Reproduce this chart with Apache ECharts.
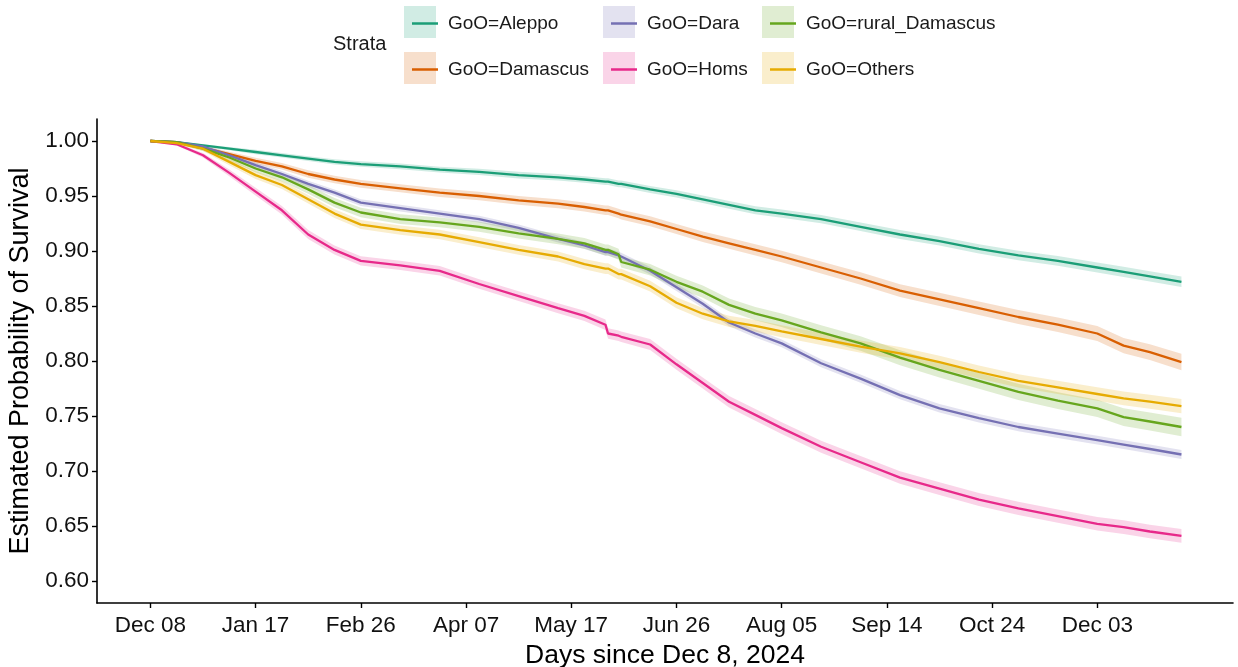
<!DOCTYPE html>
<html>
<head>
<meta charset="utf-8">
<script src="https://cdn.jsdelivr.net/npm/echarts@6/dist/echarts.min.js"></script>
<style>
  html, body { margin: 0; padding: 0; background: #ffffff; }
  #chart { width: 1238px; height: 667px; }
</style>
</head>
<body>
<div id="chart"></div>
<script>
// Kaplan-Meier survival estimates by governorate of origin (GoO), with 95% bands
var days = [0, 10, 20, 30, 40, 50, 60, 70, 80, 95, 110, 125, 140, 155, 165, 173, 174, 178, 179,
            190, 200, 210, 220, 230, 240, 255, 270, 285, 300, 315, 330, 345, 360, 370, 380, 392];

var aleppo = [1.000, 0.999, 0.996, 0.993, 0.990, 0.987, 0.984, 0.981, 0.979, 0.977, 0.974, 0.972, 0.969, 0.967, 0.965, 0.963, 0.963, 0.961, 0.961,
              0.956, 0.952, 0.947, 0.942, 0.937, 0.934, 0.929, 0.922, 0.915, 0.909, 0.902, 0.896, 0.891, 0.885, 0.881, 0.877, 0.872];
var damascus = [1.000, 0.999, 0.994, 0.988, 0.982, 0.977, 0.970, 0.965, 0.961, 0.957, 0.953, 0.950, 0.946, 0.943, 0.940, 0.937, 0.937, 0.934, 0.933,
                0.927, 0.920, 0.913, 0.907, 0.901, 0.895, 0.885, 0.875, 0.864, 0.856, 0.848, 0.840, 0.833, 0.825, 0.814, 0.808, 0.799];
var dara = [1.000, 0.999, 0.995, 0.987, 0.978, 0.970, 0.961, 0.953, 0.944, 0.939, 0.934, 0.929, 0.921, 0.911, 0.905, 0.899, 0.899, 0.896, 0.895,
            0.882, 0.867, 0.852, 0.835, 0.825, 0.816, 0.798, 0.784, 0.769, 0.757, 0.748, 0.740, 0.734, 0.728, 0.724, 0.720, 0.715];
var homs = [1.000, 0.997, 0.987, 0.971, 0.954, 0.937, 0.915, 0.901, 0.891, 0.887, 0.882, 0.870, 0.859, 0.848, 0.841, 0.833, 0.825, 0.823, 0.822,
            0.815, 0.797, 0.780, 0.763, 0.751, 0.739, 0.722, 0.708, 0.694, 0.684, 0.674, 0.666, 0.659, 0.652, 0.649, 0.645, 0.641];
var ruralDamascus = [1.000, 0.999, 0.993, 0.985, 0.975, 0.967, 0.956, 0.944, 0.935, 0.929, 0.926, 0.922, 0.916, 0.911, 0.907, 0.901, 0.901, 0.897, 0.890,
                     0.883, 0.872, 0.863, 0.851, 0.843, 0.837, 0.826, 0.816, 0.803, 0.792, 0.782, 0.772, 0.764, 0.757, 0.749, 0.745, 0.740];
var others = [1.000, 0.998, 0.993, 0.981, 0.969, 0.960, 0.947, 0.934, 0.924, 0.919, 0.915, 0.908, 0.901, 0.895, 0.888, 0.884, 0.884, 0.879, 0.879,
              0.868, 0.853, 0.843, 0.836, 0.832, 0.827, 0.820, 0.813, 0.807, 0.799, 0.790, 0.782, 0.776, 0.770, 0.766, 0.763, 0.759];

// half-widths of the confidence bands at the same days
var aleppoHw = [0, 0.0005, 0.001, 0.0015, 0.002, 0.002, 0.0022, 0.0024, 0.0025, 0.0026, 0.0027, 0.0028, 0.003, 0.003, 0.003, 0.0031, 0.0031, 0.0031, 0.0031,
                0.0032, 0.0033, 0.0034, 0.0035, 0.0036, 0.0037, 0.0038, 0.0039, 0.004, 0.0041, 0.0042, 0.0043, 0.0044, 0.0045, 0.0046, 0.0047, 0.0048];
var damascusHw = [0, 0.0008, 0.0015, 0.0022, 0.0028, 0.003, 0.0033, 0.0035, 0.0036, 0.0037, 0.0038, 0.0039, 0.004, 0.0041, 0.0042, 0.0043, 0.0043, 0.0043, 0.0044,
                  0.0045, 0.0046, 0.0048, 0.005, 0.0051, 0.0052, 0.0054, 0.0056, 0.0058, 0.006, 0.0062, 0.0064, 0.0066, 0.0068, 0.007, 0.0072, 0.0075];
var daraHw = [0, 0.0008, 0.0015, 0.002, 0.0025, 0.0027, 0.0028, 0.0029, 0.003, 0.003, 0.003, 0.0031, 0.0031, 0.0032, 0.0032, 0.0033, 0.0033, 0.0033, 0.0033,
              0.0034, 0.0034, 0.0035, 0.0035, 0.0036, 0.0036, 0.0037, 0.0037, 0.0038, 0.0038, 0.0039, 0.0039, 0.004, 0.004, 0.004, 0.0041, 0.0041];
var homsHw = [0, 0.001, 0.002, 0.003, 0.0035, 0.0038, 0.004, 0.0041, 0.0042, 0.0042, 0.0043, 0.0044, 0.0045, 0.0046, 0.0047, 0.0048, 0.0048, 0.0048, 0.0048,
              0.0049, 0.005, 0.0051, 0.0052, 0.0053, 0.0054, 0.0055, 0.0056, 0.0057, 0.0058, 0.0059, 0.006, 0.006, 0.0061, 0.0062, 0.0062, 0.0063];
var ruralDamascusHw = [0, 0.001, 0.002, 0.003, 0.0035, 0.0038, 0.004, 0.0042, 0.0043, 0.0044, 0.0045, 0.0046, 0.0047, 0.0048, 0.0049, 0.005, 0.005, 0.005, 0.0051,
                       0.0052, 0.0054, 0.0056, 0.0058, 0.006, 0.0062, 0.0064, 0.0066, 0.0068, 0.007, 0.0072, 0.0074, 0.0076, 0.0078, 0.008, 0.0082, 0.0085];
var othersHw = [0, 0.001, 0.002, 0.003, 0.0035, 0.0037, 0.0039, 0.004, 0.0041, 0.0042, 0.0043, 0.0044, 0.0045, 0.0046, 0.0047, 0.0048, 0.0048, 0.0048, 0.0048,
                0.0049, 0.005, 0.0051, 0.0052, 0.0053, 0.0054, 0.0055, 0.0056, 0.0057, 0.0058, 0.0059, 0.006, 0.0061, 0.0062, 0.0063, 0.0064, 0.0065];

var xTickDays = [0, 40, 80, 120, 160, 200, 240, 280, 320, 360];
var xTickLabels = ['Dec 08', 'Jan 17', 'Feb 26', 'Apr 07', 'May 17', 'Jun 26', 'Aug 05', 'Sep 14', 'Oct 24', 'Dec 03'];
var yTicks = [0.60, 0.65, 0.70, 0.75, 0.80, 0.85, 0.90, 0.95, 1.00];

var strata = [
  { name: 'GoO=Aleppo',          values: aleppo,        hw: aleppoHw,        color: '#1B9E77', band: 'rgba(27,158,119,0.2)' },
  { name: 'GoO=Damascus',        values: damascus,      hw: damascusHw,      color: '#D95F02', band: 'rgba(217,95,2,0.2)' },
  { name: 'GoO=Dara',            values: dara,          hw: daraHw,          color: '#7570B3', band: 'rgba(117,112,179,0.2)' },
  { name: 'GoO=Homs',            values: homs,          hw: homsHw,          color: '#E7298A', band: 'rgba(231,41,138,0.2)' },
  { name: 'GoO=rural_Damascus',  values: ruralDamascus, hw: ruralDamascusHw, color: '#66A61E', band: 'rgba(102,166,30,0.2)' },
  { name: 'GoO=Others',          values: others,        hw: othersHw,        color: '#E6AB02', band: 'rgba(230,171,2,0.2)' }
];

var FONT = '"Liberation Sans", Arial, sans-serif';

// band polygon: upper edge left-to-right, lower edge right-to-left
function bandSeries(s) {
  var data = days.map(function (d, i) { return [d, s.values[i] - s.hw[i], s.values[i] + s.hw[i]]; });
  return {
    type: 'custom',
    name: s.name,
    coordinateSystem: 'cartesian2d',
    silent: true,
    z: 1,
    color: s.color,
    encode: { x: 0, y: [1, 2] },
    data: data,
    renderItem: function (params, api) {
      if (params.dataIndex !== 0) return null;
      var pts = [];
      for (var i = 0; i < data.length; i++) pts.push(api.coord([data[i][0], data[i][2]]));
      for (var j = data.length - 1; j >= 0; j--) pts.push(api.coord([data[j][0], data[j][1]]));
      return { type: 'polygon', shape: { points: pts }, style: { fill: s.band, stroke: null } };
    }
  };
}

function lineSeries(s) {
  return {
    type: 'line',
    name: s.name,
    data: days.map(function (d, i) { return [d, s.values[i]]; }),
    showSymbol: false,
    symbol: 'none',
    z: 3,
    color: s.color,
    lineStyle: { color: s.color, width: 2.3 },
    emphasis: { disabled: true }
  };
}

var series = [];
strata.forEach(function (s) { series.push(bandSeries(s)); });
strata.forEach(function (s) { series.push(lineSeries(s)); });

// legend: two rows, three columns (column-major order)
var legendCols = [404, 603, 762];
var legendRows = [22, 68];
var legends = [];
var keyBoxes = [];
strata.forEach(function (s, k) {
  var col = Math.floor(k / 2), row = k % 2;
  var x = legendCols[col], yc = legendRows[row];
  keyBoxes.push({
    type: 'rect', z: 0, left: x, top: yc - 16,
    shape: { width: 32, height: 32 },
    style: { fill: s.band }
  });
  legends.push({
    data: [{ name: s.name, itemStyle: { color: s.color } }],
    left: x + 3,
    top: yc - 13,
    orient: 'horizontal',
    icon: 'rect',
    itemWidth: 26,
    itemHeight: 2.5,
    selectedMode: false,
    textStyle: { fontFamily: FONT, fontSize: 19, color: '#1a1a1a', padding: [0, 0, 0, 5] }
  });
});

var chart = echarts.init(document.getElementById('chart'), null, { renderer: 'canvas' });
chart.setOption({
  backgroundColor: '#ffffff',
  animation: false,
  legend: legends,
  graphic: keyBoxes.concat([{
    type: 'text', left: 333, top: 34, z: 5,
    style: { text: 'Strata', font: '20px ' + FONT, fill: '#1a1a1a' }
  }]),
  grid: { left: 97, right: 5, top: 119, bottom: 64, containLabel: false, outerBoundsMode: 'none' },
  xAxis: {
    type: 'value',
    min: -20.3,
    max: 411.6,
    name: 'Days since Dec 8, 2024',
    nameLocation: 'middle',
    nameGap: 35,
    nameTextStyle: { fontFamily: FONT, fontSize: 26.5, color: '#000' },
    axisLine: { show: true, onZero: false, lineStyle: { color: '#000', width: 1.6 } },
    axisTick: { show: true, length: 5, lineStyle: { color: '#000', width: 1.4 }, customValues: xTickDays },
    axisLabel: {
      fontFamily: FONT, fontSize: 22.5, color: '#111', margin: 11,
      customValues: xTickDays,
      formatter: function (v) { var i = xTickDays.indexOf(Math.round(v)); return i >= 0 ? xTickLabels[i] : ''; }
    },
    splitLine: { show: false }
  },
  yAxis: {
    type: 'value',
    min: 0.58,
    max: 1.02,
    name: 'Estimated Probability of Survival',
    nameLocation: 'middle',
    nameRotate: 90,
    nameGap: 57,
    nameTextStyle: { fontFamily: FONT, fontSize: 27, color: '#000' },
    axisLine: { show: true, onZero: false, lineStyle: { color: '#000', width: 1.6 } },
    axisTick: { show: true, length: 5, lineStyle: { color: '#000', width: 1.4 }, customValues: yTicks },
    axisLabel: {
      fontFamily: FONT, fontSize: 22.5, color: '#111', margin: 8,
      customValues: yTicks,
      formatter: function (v) { return v.toFixed(2); }
    },
    splitLine: { show: false }
  },
  series: series
});
</script>
</body>
</html>
